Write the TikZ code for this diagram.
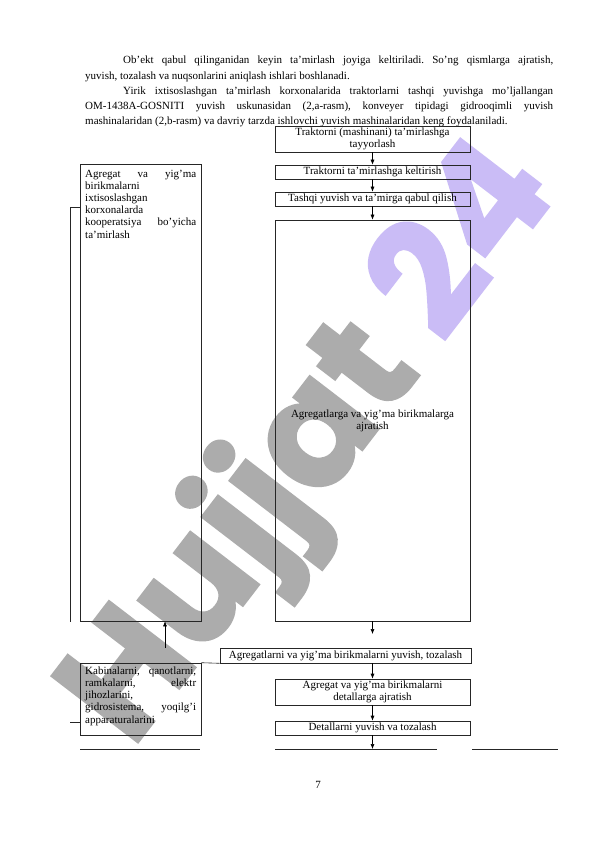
\documentclass[tikz,border=0pt]{standalone}
\usepackage{fontspec}
\setmainfont{Liberation Serif}
\newfontfamily\wmfont{Poppins}[BoldFeatures={FakeBold=1.5}]
\usetikzlibrary{arrows.meta}
\definecolor{wmgray}{RGB}{172,172,172}
\definecolor{wmviolet}{RGB}{202,188,246}
\begin{document}
\begin{tikzpicture}[x=1pt,y=-1pt,
  box/.style={draw=black!85, line width=0.6pt, inner sep=0pt, align=center, font=\fontsize{11}{12}\selectfont},
  frame/.style={draw=black!85, line width=0.6pt, inner sep=0pt},
  sidetext/.style={anchor=north west, inner sep=0pt, text width=111pt, align=justify, font=\fontsize{11}{12.2}\selectfont},
  arr/.style={-{Latex[length=5pt,width=4pt]}, line width=0.6pt},
  plain/.style={line width=0.6pt, draw=black!85}]
\useasboundingbox[fill=white] (0,0) rectangle (596,842);

% watermark
\node[rotate=52.5, anchor=base west, inner sep=0pt, font=\wmfont\bfseries\fontsize{155}{155}\selectfont] (wm) at (132,750)
  {\textcolor{wmgray}{Hujjat} \textcolor{wmviolet}{24}};

% body text
\node[anchor=north west, inner sep=0pt, text width=468pt, align=justify, font=\fontsize{11}{15.2}\selectfont] (para) at (85,56)
 {\frenchspacing\hyphenpenalty=10000\exhyphenpenalty=10000\parindent=38pt\indent Ob’ekt qabul qilinganidan keyin ta’mirlash joyiga keltiriladi. So’ng qismlarga ajratish,\linebreak yuvish, tozalash va nuqsonlarini aniqlash ishlari boshlanadi.\par
 \indent Yirik ixtisoslashgan ta’mirlash korxonalarida traktorlarni tashqi yuvishga mo’ljallangan\linebreak OM-1438A-GOSNITI yuvish uskunasidan (2,a-rasm), konveyer tipidagi gidrooqimli yuvish\linebreak mashinalaridan (2,b-rasm) va davriy tarzda ishlovchi yuvish mashinalaridan keng foydalaniladi.\par};

% right column
\node[box, minimum width=195pt, minimum height=26pt] (b1) at (372.5,139) {Traktorni (mashinani) ta’mirlashga\\tayyorlash};
\node[box, minimum width=195pt, minimum height=14pt] (b2) at (372.5,172) {Traktorni ta’mirlashga keltirish};
\node[box, minimum width=195pt, minimum height=14pt] (b3) at (372.5,199) {Tashqi yuvish va ta’mirga qabul qilish};
\node[box, minimum width=195pt, minimum height=401pt] (b4) at (372.5,420.5) {Agregatlarga va yig’ma birikmalarga\\ajratish};
\node[box, minimum width=251pt, minimum height=15pt] (b5) at (345.5,655.5) {Agregatlarni va yig’ma birikmalarni yuvish, tozalash};
\node[box, minimum width=195pt, minimum height=26pt] (b6) at (372.5,692) {Agregat va yig’ma birikmalarni\\detallarga ajratish};
\node[box, minimum width=195pt, minimum height=14pt] (b7) at (372.5,728) {Detallarni yuvish va tozalash};

% left column
\node[frame, minimum width=121pt, minimum height=457pt] (A) at (140.5,392.5) {};
\node[sidetext] (At) at (85,169.5) {\hyphenpenalty=10000 Agregat va yig’ma\linebreak birikmalarni\linebreak ixtisoslashgan\linebreak korxonalarda\linebreak kooperatsiya bo’yicha\linebreak ta’mirlash};
\node[frame, minimum width=121pt, minimum height=72pt] (B) at (140.5,699) {};
\node[sidetext] (Bt) at (85,666.5) {\hyphenpenalty=10000 Kabinalarni, qanotlarni,\linebreak ramkalarni, elektr\linebreak jihozlarini,\linebreak gidrosistema, yoqilg’i\linebreak apparaturalarini};

% connectors
\draw[arr] (b1.south) -- (b2.north);
\draw[arr] (b2.south) -- (b3.north);
\draw[arr] (b3.south) -- (b4.north);
\coordinate (e4) at (372.5,634);
\draw[arr] (b4.south) -- (e4);
\draw[arr] (b6.north |- b5.south) -- (b6.north);
\draw[arr] (b6.south) -- (b7.north);
\coordinate (bl) at (372.5,749);
\draw[arr] (b7.south) -- (bl);
\coordinate (up) at (165,648);
\draw[arr] (up) -- (up |- A.south);
\draw[plain] (B.north east) -- (b5.south west);
\coordinate (t1) at (70,207);
\coordinate (t2) at (70,622);
\draw[plain] (A.west |- t1) -- (t1) -- (t2);
\coordinate (s1) at (70,722);
\draw[plain] (B.west |- s1) -- (s1);

% bottom lines
\draw[plain] (80,749) -- (200,749);
\draw[plain] (275,749) -- (437,749);
\draw[plain] (472,749) -- (558,749);

\node[font=\fontsize{11}{12}\selectfont] (pg) at (318,785) {7};
\end{tikzpicture}
\end{document}
